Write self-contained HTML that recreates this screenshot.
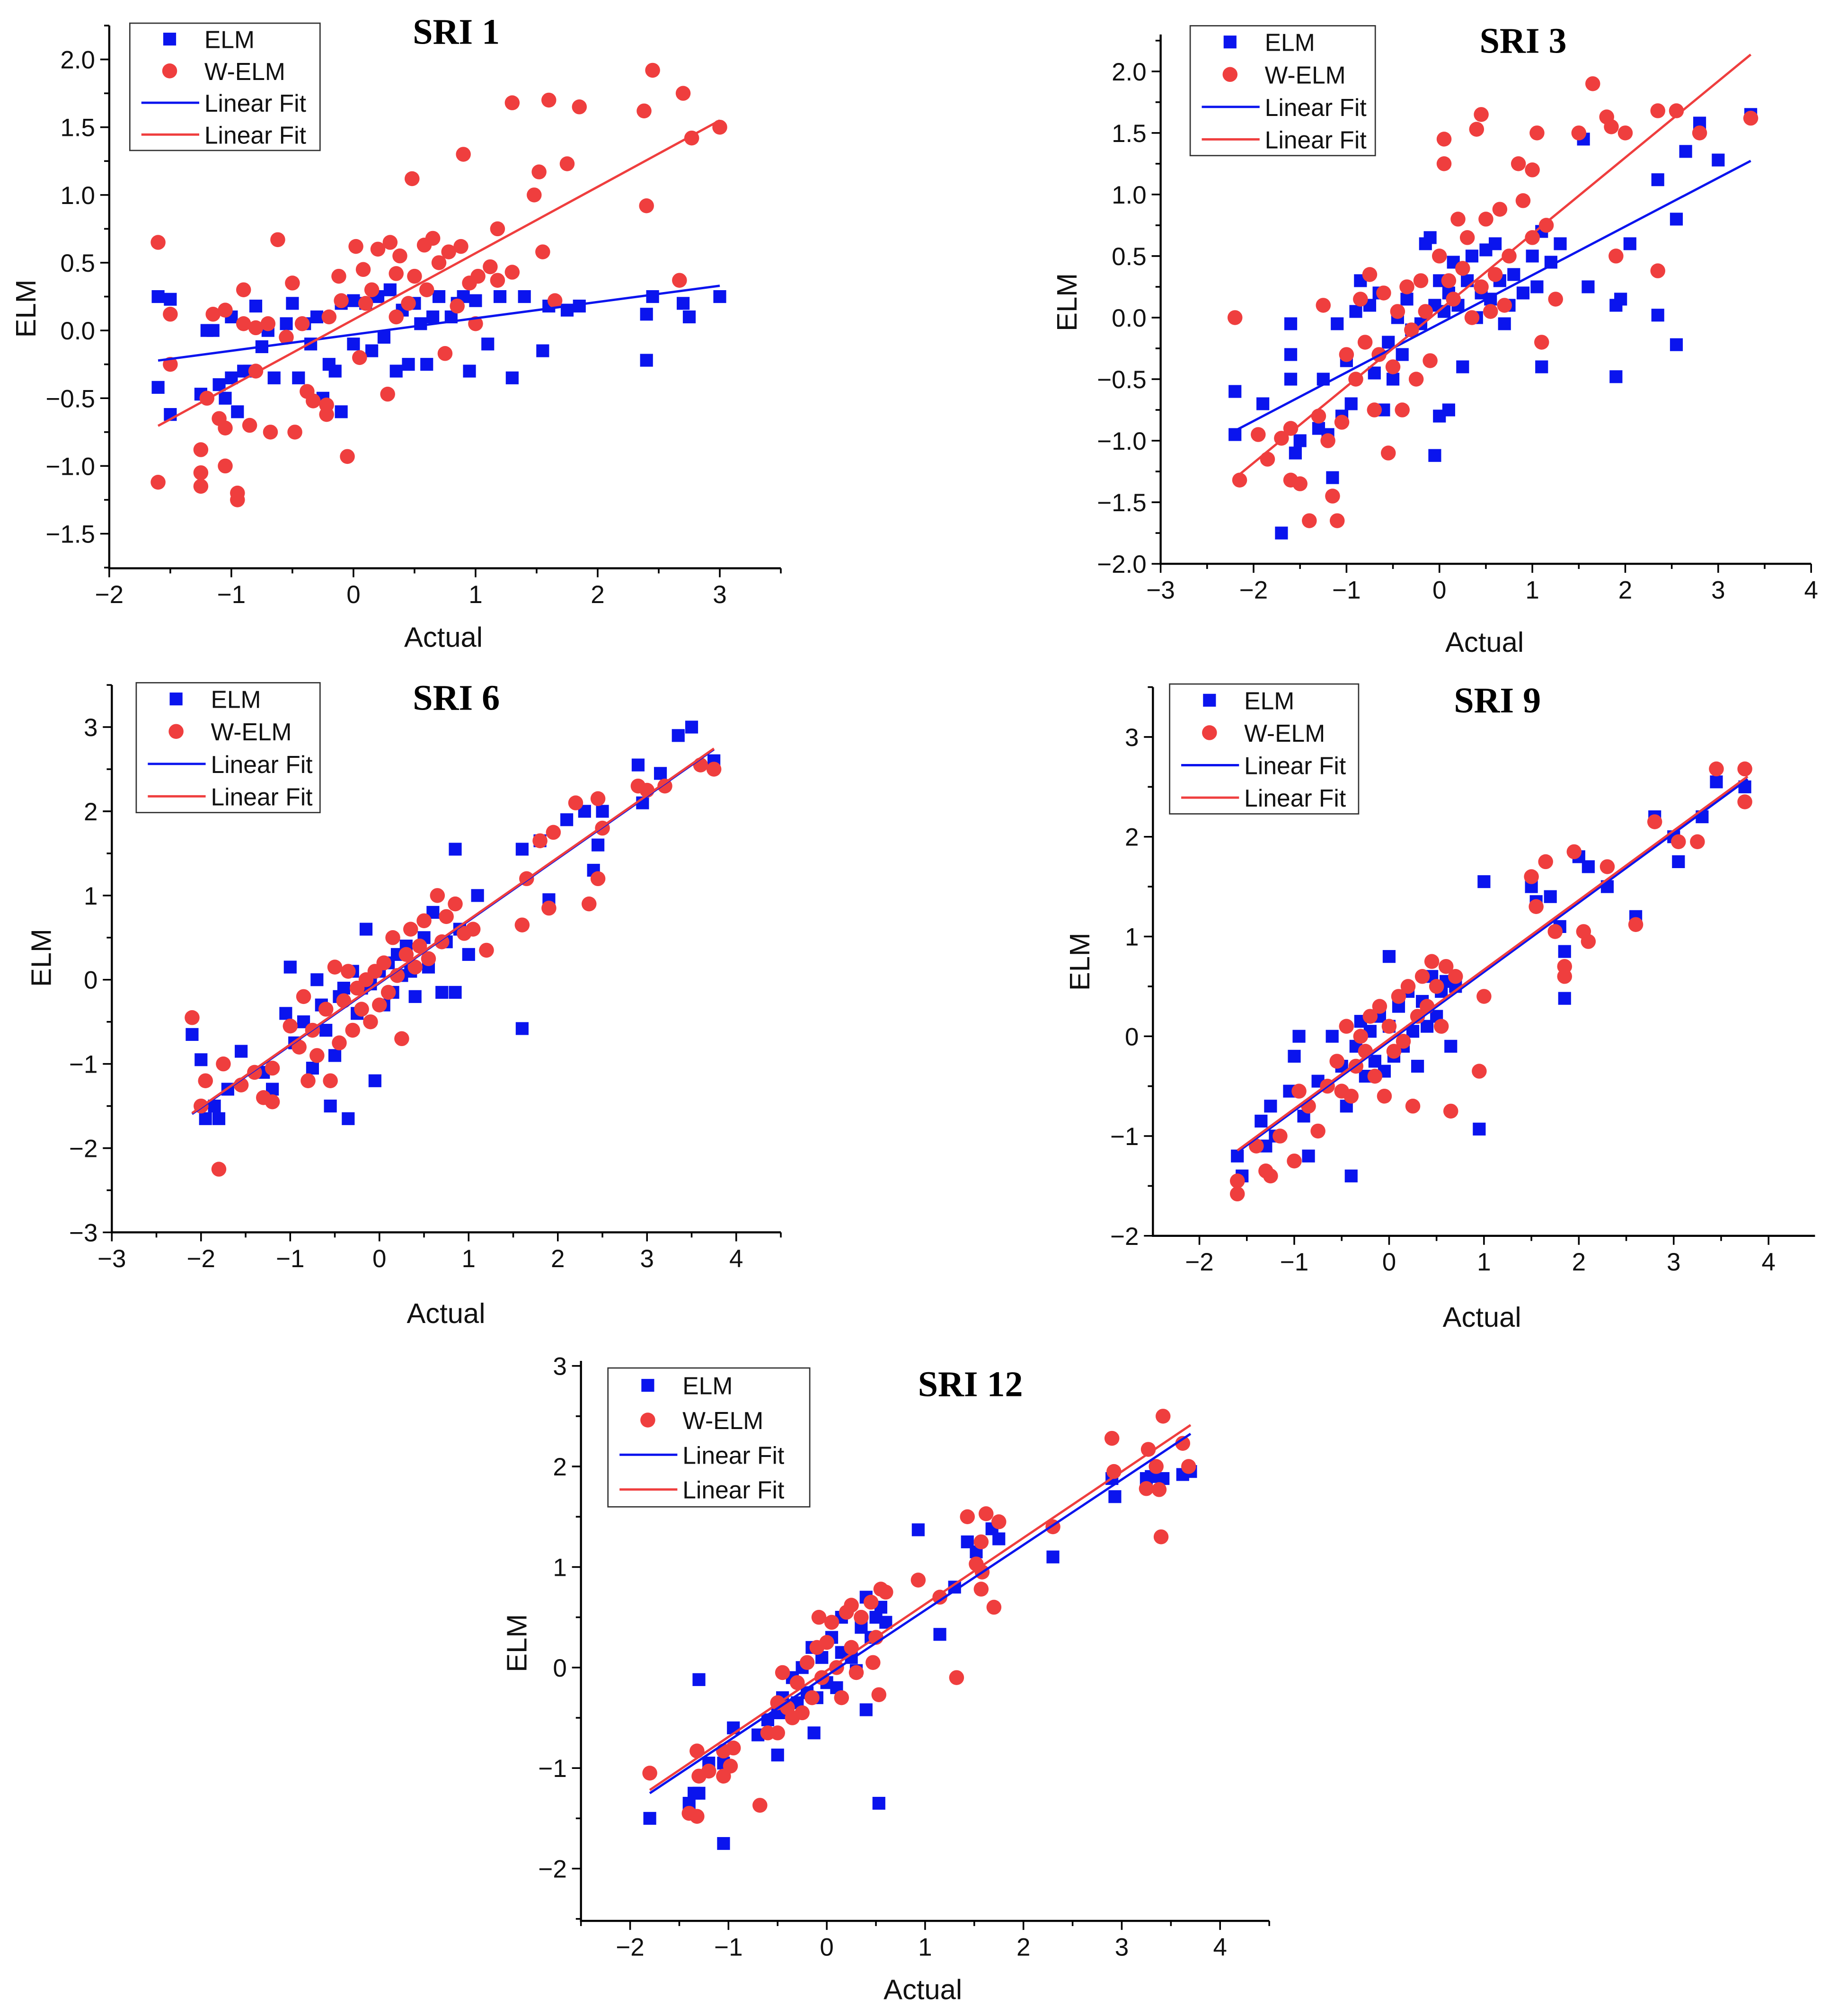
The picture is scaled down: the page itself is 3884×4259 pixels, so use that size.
<!DOCTYPE html>
<html><head><meta charset="utf-8"><style>
html,body{margin:0;padding:0;background:#fff;}
svg{display:block;}
</style></head><body>
<svg id="fig" xmlns="http://www.w3.org/2000/svg" width="3884" height="4259" viewBox="0 0 1430 1568" font-family="Liberation Sans, Arial, sans-serif">
<rect x="0" y="0" width="1430" height="1568" fill="#fff"/>
</svg>
<script>
// ---- data ----
const sri1Elm = [[-1.6,0.25],[-1.6,-0.42],[-1.5,0.23],[-1.5,-0.62],[-1.25,-0.47],[-1.2,0],[-1.15,0],[-1.1,-0.4],[-1.05,-0.5],[-1,-0.35],[-1,0.1],[-0.95,-0.6],[-0.9,-0.3],[-0.85,-0.3],[-0.8,0.18],[-0.75,-0.12],[-0.7,0],[-0.65,-0.35],[-0.55,0.05],[-0.5,0.2],[-0.45,-0.35],[-0.4,0.05],[-0.35,-0.1],[-0.3,0.1],[-0.25,-0.5],[-0.2,-0.25],[-0.15,-0.3],[-0.1,0.2],[-0.1,-0.6],[0,0.22],[0,-0.1],[0.1,0.2],[0.15,-0.15],[0.2,0.25],[0.25,-0.05],[0.3,0.3],[0.35,-0.3],[0.4,0.15],[0.45,-0.25],[0.5,0.2],[0.55,0.05],[0.6,-0.25],[0.65,0.1],[0.7,0.25],[0.8,0.1],[0.85,0.2],[0.9,0.25],[0.95,-0.3],[1,0.22],[1.1,-0.1],[1.2,0.25],[1.3,-0.35],[1.4,0.25],[1.55,-0.15],[1.6,0.18],[1.75,0.15],[1.85,0.18],[2.4,0.12],[2.4,-0.22],[2.45,0.25],[2.7,0.2],[2.75,0.1],[3,0.25]];
const sri1Welm = [[-1.6,0.65],[-1.6,-1.12],[-1.5,0.12],[-1.5,-0.25],[-1.25,-0.88],[-1.25,-1.05],[-1.25,-1.15],[-1.2,-0.5],[-1.15,0.12],[-1.1,-0.65],[-1.05,0.15],[-1.05,-0.72],[-1.05,-1.0],[-0.95,-1.2],[-0.95,-1.25],[-0.9,0.3],[-0.9,0.05],[-0.85,-0.7],[-0.8,0.02],[-0.8,-0.3],[-0.7,0.05],[-0.68,-0.75],[-0.62,0.67],[-0.55,-0.05],[-0.5,0.35],[-0.48,-0.75],[-0.42,0.05],[-0.38,-0.45],[-0.33,-0.52],[-0.22,-0.55],[-0.2,0.1],[-0.22,-0.62],[-0.12,0.4],[-0.1,0.22],[-0.05,-0.93],[0.02,0.62],[0.05,-0.2],[0.08,0.45],[0.1,0.2],[0.15,0.3],[0.2,0.6],[0.28,-0.47],[0.3,0.65],[0.35,0.1],[0.35,0.42],[0.38,0.55],[0.45,0.2],[0.5,0.4],[0.48,1.12],[0.58,0.63],[0.6,0.3],[0.65,0.68],[0.7,0.5],[0.78,0.58],[0.75,-0.17],[0.85,0.18],[0.9,1.3],[0.88,0.62],[0.95,0.35],[1,0.05],[1.02,0.4],[1.12,0.47],[1.18,0.75],[1.18,0.37],[1.3,1.68],[1.3,0.43],[1.48,1.0],[1.52,1.17],[1.55,0.58],[1.6,1.7],[1.65,0.22],[1.75,1.23],[1.85,1.65],[2.38,1.62],[2.4,0.92],[2.45,1.92],[2.7,1.75],[2.77,1.42],[2.67,0.37],[3,1.5]];
const sri3Elm = [[-2.2,-0.6],[-2.2,-0.95],[-1.9,-0.7],[-1.7,-1.75],[-1.6,-0.3],[-1.6,-0.05],[-1.6,-0.5],[-1.55,-1.1],[-1.5,-1.0],[-1.3,-0.9],[-1.25,-0.5],[-1.2,-0.95],[-1.15,-1.3],[-1.1,-0.05],[-1.05,-0.8],[-1,-0.35],[-0.95,-0.7],[-0.9,0.05],[-0.85,0.3],[-0.75,0.1],[-0.7,-0.45],[-0.65,0.2],[-0.6,-0.75],[-0.55,-0.2],[-0.5,-0.5],[-0.45,0],[-0.4,-0.3],[-0.35,0.15],[-0.3,-0.1],[-0.2,-0.05],[-0.15,0.6],[-0.1,0.65],[-0.05,-1.12],[-0.05,0.1],[0,-0.8],[0,0.3],[0.05,0.05],[0.1,-0.75],[0.1,0.2],[0.15,0.45],[0.2,0.1],[0.25,-0.4],[0.3,0.3],[0.35,0.5],[0.4,0],[0.45,0.2],[0.5,0.55],[0.55,0.15],[0.6,0.6],[0.65,0.3],[0.7,-0.05],[0.75,0.1],[0.8,0.35],[0.9,0.2],[1,0.5],[1.05,0.25],[1.1,0.7],[1.1,-0.4],[1.2,0.45],[1.3,0.6],[1.55,1.45],[1.6,0.25],[1.9,0.1],[1.9,-0.48],[1.95,0.15],[2.05,0.6],[2.35,1.12],[2.35,0.02],[2.55,-0.22],[2.55,0.8],[2.65,1.35],[2.8,1.58],[3.0,1.28],[3.35,1.65]];
const sri3Welm = [[-2.2,0],[-2.15,-1.32],[-1.95,-0.95],[-1.85,-1.15],[-1.7,-0.98],[-1.6,-1.32],[-1.6,-0.9],[-1.5,-1.35],[-1.4,-1.65],[-1.3,-0.8],[-1.25,0.1],[-1.2,-1.0],[-1.15,-1.45],[-1.1,-1.65],[-1.05,-0.85],[-1,-0.3],[-0.9,-0.5],[-0.85,0.15],[-0.8,-0.2],[-0.75,0.35],[-0.7,-0.75],[-0.65,-0.3],[-0.6,0.2],[-0.55,-1.1],[-0.5,-0.4],[-0.45,0.05],[-0.4,-0.75],[-0.35,0.25],[-0.3,-0.1],[-0.25,-0.5],[-0.2,0.3],[-0.15,0.05],[-0.1,-0.35],[0,0.5],[0.05,1.25],[0.05,1.45],[0.1,0.3],[0.15,0.15],[0.2,0.8],[0.25,0.4],[0.3,0.65],[0.35,0],[0.4,1.53],[0.45,1.65],[0.45,0.25],[0.5,0.8],[0.55,0.05],[0.6,0.35],[0.65,0.88],[0.7,0.1],[0.75,0.5],[0.85,1.25],[0.9,0.95],[1,1.2],[1,0.65],[1.05,1.5],[1.1,-0.2],[1.15,0.75],[1.25,0.15],[1.5,1.5],[1.65,1.9],[1.8,1.63],[1.85,1.55],[1.9,0.5],[2.0,1.5],[2.35,1.68],[2.35,0.38],[2.55,1.68],[2.8,1.5],[3.35,1.62]];
const sri6Elm = [[-2.1,-0.65],[-2,-0.95],[-1.95,-1.65],[-1.85,-1.5],[-1.8,-1.65],[-1.7,-1.3],[-1.55,-0.85],[-1.3,-1.1],[-1.2,-1.3],[-1.05,-0.4],[-1,0.15],[-0.95,-0.75],[-0.85,-0.5],[-0.75,-1.05],[-0.7,0],[-0.65,-0.3],[-0.6,-0.6],[-0.55,-1.5],[-0.5,-0.9],[-0.45,-0.2],[-0.4,-0.1],[-0.35,-1.65],[-0.3,0.1],[-0.25,-0.4],[-0.2,-0.1],[-0.15,0.6],[-0.1,-0.05],[-0.05,-1.2],[0,0.1],[0.05,-0.3],[0.1,0.2],[0.15,-0.15],[0.2,0.3],[0.25,0.05],[0.3,0.4],[0.35,0.1],[0.4,-0.2],[0.5,0.5],[0.55,0.15],[0.6,0.8],[0.7,-0.15],[0.75,0.45],[0.85,1.55],[0.85,-0.15],[0.9,0.6],[1.0,0.3],[1.1,1.0],[1.6,-0.58],[1.6,1.55],[1.8,1.65],[1.9,0.95],[2.1,1.9],[2.3,2.0],[2.4,1.3],[2.45,1.6],[2.5,2.0],[2.9,2.55],[2.95,2.1],[3.15,2.45],[3.35,2.9],[3.5,3.0],[3.75,2.6]];
const sri6Welm = [[-2.1,-0.45],[-2,-1.5],[-1.95,-1.2],[-1.8,-2.25],[-1.75,-1.0],[-1.55,-1.25],[-1.4,-1.1],[-1.3,-1.4],[-1.2,-1.45],[-1.2,-1.05],[-1,-0.55],[-0.9,-0.8],[-0.85,-0.2],[-0.8,-1.2],[-0.75,-0.6],[-0.7,-0.9],[-0.6,-0.35],[-0.55,-1.2],[-0.5,0.15],[-0.45,-0.75],[-0.4,-0.25],[-0.35,0.1],[-0.3,-0.6],[-0.25,-0.1],[-0.2,-0.35],[-0.15,0],[-0.1,-0.5],[-0.05,0.1],[0,-0.3],[0.05,0.2],[0.1,-0.15],[0.15,0.5],[0.2,0.05],[0.25,-0.7],[0.3,0.3],[0.35,0.6],[0.4,0.15],[0.45,0.4],[0.5,0.7],[0.55,0.25],[0.65,1.0],[0.7,0.45],[0.75,0.75],[0.85,0.9],[0.95,0.55],[1.05,0.6],[1.2,0.35],[1.6,0.65],[1.65,1.2],[1.8,1.65],[1.9,0.85],[1.95,1.75],[2.2,2.1],[2.35,0.9],[2.45,1.2],[2.45,2.15],[2.5,1.8],[2.9,2.3],[3.0,2.25],[3.2,2.3],[3.6,2.55],[3.75,2.5]];
const sri9Elm = [[-1.6,-1.2],[-1.55,-1.4],[-1.35,-0.85],[-1.3,-1.1],[-1.25,-0.7],[-1.2,-1.0],[-1.05,-0.55],[-1.0,-0.2],[-0.95,0],[-0.9,-0.8],[-0.85,-1.2],[-0.75,-0.45],[-0.6,0],[-0.5,-0.3],[-0.45,-0.7],[-0.4,-1.4],[-0.35,-0.1],[-0.3,0.15],[-0.25,-0.4],[-0.2,0.05],[-0.15,-0.25],[-0.1,0.2],[-0.05,-0.35],[0,0.8],[0,0.1],[0.05,-0.2],[0.1,0.3],[0.15,-0.1],[0.2,0.45],[0.25,0.05],[0.3,-0.3],[0.35,0.35],[0.4,0.1],[0.45,0.6],[0.5,0.2],[0.55,0.45],[0.6,0.55],[0.65,-0.1],[0.7,0.5],[1.0,1.55],[0.95,-0.93],[1.5,1.5],[1.55,1.35],[1.7,1.4],[1.8,1.1],[1.85,0.38],[1.85,0.85],[2.0,1.8],[2.1,1.7],[2.3,1.5],[2.6,1.2],[2.8,2.2],[3.0,2.0],[3.05,1.75],[3.3,2.2],[3.45,2.55],[3.75,2.5]];
const sri9Welm = [[-1.6,-1.45],[-1.6,-1.58],[-1.4,-1.1],[-1.3,-1.35],[-1.25,-1.4],[-1.15,-1.0],[-1.0,-1.25],[-0.95,-0.55],[-0.85,-0.7],[-0.75,-0.95],[-0.65,-0.5],[-0.55,-0.25],[-0.5,-0.55],[-0.45,0.1],[-0.4,-0.6],[-0.35,-0.3],[-0.3,0],[-0.25,-0.15],[-0.2,0.2],[-0.15,-0.4],[-0.1,0.3],[-0.05,-0.6],[0,0.1],[0.05,-0.15],[0.1,0.4],[0.15,-0.05],[0.2,0.5],[0.25,-0.7],[0.3,0.2],[0.35,0.6],[0.4,0.3],[0.45,0.75],[0.5,0.5],[0.55,0.1],[0.6,0.7],[0.65,-0.75],[0.7,0.6],[0.95,-0.35],[1.0,0.4],[1.5,1.6],[1.55,1.3],[1.65,1.75],[1.75,1.05],[1.85,0.6],[1.85,0.7],[1.95,1.85],[2.05,1.05],[2.1,0.95],[2.3,1.7],[2.6,1.12],[2.8,2.15],[3.05,1.95],[3.25,1.95],[3.45,2.68],[3.75,2.35],[3.75,2.68]];
const sri12Elm = [[-1.8,-1.5],[-1.4,-1.35],[-1.35,-1.25],[-1.3,-0.12],[-1.3,-1.25],[-1.05,-1.75],[-1.05,-0.95],[-1.2,-0.95],[-0.95,-0.6],[-0.7,-0.67],[-0.5,-0.87],[-0.6,-0.52],[-0.5,-0.45],[-0.45,-0.3],[-0.4,-0.45],[-0.35,-0.1],[-0.3,-0.35],[-0.25,0],[-0.2,-0.25],[-0.15,0.2],[-0.13,-0.65],[-0.1,-0.3],[-0.05,0.1],[0,-0.15],[0.05,0.3],[0.1,-0.2],[0.15,0.15],[0.15,0.5],[0.25,0.1],[0.3,-0.03],[0.35,0.4],[0.4,0.7],[0.45,0.3],[0.5,0.5],[0.55,0.6],[0.6,0.45],[0.4,-0.42],[0.53,-1.35],[0.93,1.37],[1.15,0.33],[1.3,0.8],[1.43,1.25],[1.52,1.15],[1.68,1.38],[1.75,1.28],[2.3,1.1],[2.9,1.88],[2.93,1.7],[3.25,1.88],[3.3,1.9],[3.42,1.88],[3.62,1.92],[3.7,1.95]];
const sri12Welm = [[-1.8,-1.05],[-1.4,-1.45],[-1.32,-1.48],[-1.32,-0.83],[-1.3,-1.08],[-1.2,-1.03],[-1.05,-1.08],[-1.05,-0.83],[-0.95,-0.8],[-0.98,-0.98],[-0.68,-1.37],[-0.6,-0.65],[-0.5,-0.65],[-0.5,-0.35],[-0.45,-0.05],[-0.4,-0.4],[-0.35,-0.5],[-0.3,-0.15],[-0.25,-0.45],[-0.2,0.05],[-0.15,-0.3],[-0.1,0.2],[-0.05,-0.1],[-0.08,0.5],[0,0.25],[0.05,0.45],[0.1,0],[0.15,-0.3],[0.2,0.55],[0.25,0.2],[0.25,0.62],[0.3,-0.05],[0.35,0.5],[0.45,0.65],[0.47,0.05],[0.5,0.3],[0.55,0.78],[0.53,-0.27],[0.6,0.75],[0.93,0.87],[1.15,0.7],[1.32,-0.1],[1.43,1.5],[1.52,1.03],[1.57,1.25],[1.57,0.78],[1.62,1.53],[1.58,0.95],[1.7,0.6],[1.75,1.45],[2.3,1.4],[2.9,2.28],[2.92,1.95],[3.25,1.78],[3.27,2.17],[3.35,2.0],[3.38,1.77],[3.4,1.3],[3.42,2.5],[3.62,2.23],[3.68,2.0]];
// linear fits: [slope, intercept, xStart, xEnd]
const sri1FitElm = [0.12,-0.03,-1.6,3.0];
const sri1FitWelm = [0.49,0.08,-1.6,3.0];
const sri3FitElm = [0.395,-0.05,-2.2,3.35];
const sri3FitWelm = [0.62,0.06,-2.2,3.35];
const sri6FitElm = [0.74,-0.04,-2.1,3.75];
const sri6FitWelm = [0.74,-0.03,-2.1,3.75];
const sri9FitElm = [0.695,-0.05,-1.6,3.78];
const sri9FitWelm = [0.697,-0.03,-1.6,3.78];
const sri12FitElm = [0.65,-0.08,-1.8,3.7];
const sri12FitWelm = [0.66,-0.03,-1.8,3.7];
const sri1XTicks = [-2,-1,0,1,2,3];
const sri1YTicks = [-1.5,-1.0,-0.5,0.0,0.5,1.0,1.5,2.0];
const sri3XTicks = [-3,-2,-1,0,1,2,3,4];
const sri3YTicks = [-2.0,-1.5,-1.0,-0.5,0.0,0.5,1.0,1.5,2.0];
const sri6XTicks = [-3,-2,-1,0,1,2,3,4];
const sri6YTicks = [-3,-2,-1,0,1,2,3];
const sri9XTicks = [-2,-1,0,1,2,3,4];
const sri9YTicks = [-2,-1,0,1,2,3];
const sri12XTicks = [-2,-1,0,1,2,3,4];
const sri12YTicks = [-2,-1,0,1,2,3];

// ---- layout (display units) ----
const panels = [
 {id:'sri-1',title:'SRI 1',elm:sri1Elm,welm:sri1Welm,fe:sri1FitElm,fw:sri1FitWelm,xt:sri1XTicks,yt:sri1YTicks,dec:1,
  xMin:-2,xMax:3.5,px0:85,xs:95,yMin:-1.755,yMax:2.25,py0:257,ys:105.4,leg:[101,18,148,99],tt:[355,34],yl:[20,240],xl:[345,503]},
 {id:'sri-3',title:'SRI 3',elm:sri3Elm,welm:sri3Welm,fe:sri3FitElm,fw:sri3FitWelm,xt:sri3XTicks,yt:sri3YTicks,dec:1,
  xMin:-3,xMax:4,px0:903,xs:72.3,yMin:-2,yMax:2.3,py0:247,ys:95.75,leg:[926,20,144,101],tt:[1185,41],yl:[830,235],xl:[1155,507]},
 {id:'sri-6',title:'SRI 6',elm:sri6Elm,welm:sri6Welm,fe:sri6FitElm,fw:sri6FitWelm,xt:sri6XTicks,yt:sri6YTicks,dec:0,
  xMin:-3,xMax:4.5,px0:87,xs:69.4,yMin:-3,yMax:3.5,py0:762,ys:65.5,leg:[106,531,143,101],tt:[355,552],yl:[32,745],xl:[347,1029]},
 {id:'sri-9',title:'SRI 9',elm:sri9Elm,welm:sri9Welm,fe:sri9FitElm,fw:sri9FitWelm,xt:sri9XTicks,yt:sri9YTicks,dec:0,
  xMin:-2.49,xMax:4.49,px0:897,xs:73.8,yMin:-2,yMax:3.5,py0:806,ys:77.6,leg:[910,532,147,101],tt:[1165,554],yl:[840,748],xl:[1153,1032]},
 {id:'sri-12',title:'SRI 12',elm:sri12Elm,welm:sri12Welm,fe:sri12FitElm,fw:sri12FitWelm,xt:sri12XTicks,yt:sri12YTicks,dec:0,
  xMin:-2.5,xMax:4.5,px0:452,xs:76.5,yMin:-2.52,yMax:3.05,py0:1297,ys:78.2,leg:[473,1064,157,108],tt:[755,1086],yl:[402,1278],xl:[718,1555]}
];
const NS='http://www.w3.org/2000/svg';
const svg=document.getElementById('fig');
const BLUE='#0a14ee', RED='#ef3e3e';
const SQ=10, CR=5.8;
function mk(tag,attrs,parent){const e=document.createElementNS(NS,tag);for(const k in attrs)e.setAttribute(k,attrs[k]);parent.appendChild(e);return e;}
function fmt(v,d){let s=v.toFixed(d);if(v<0)s='\u2212'+s.slice(1);return s;}

panels.forEach(p=>{
  const g=mk('g',{},svg);
  
  
  const X=v=>p.px0+(v-p.xMin)*p.xs;
  const Y=v=>p.py0-v*p.ys;
  const bottom=Y(p.yMin), top=Y(p.yMax), left=X(p.xMin), right=X(p.xMax);
  const ax=mk('path',{d:`M${left},${top}V${bottom}H${right}`,fill:'none',stroke:'#000','stroke-width':1.6},g);
  
  
  const xstep=p.xt[1]-p.xt[0];
  for(let v=p.xt[0]-xstep;v<=p.xMax+1e-6;v+=xstep/2){
    if(v<p.xMin-1e-6)continue;
    const major=p.xt.some(t=>Math.abs(t-v)<1e-6);
    mk('line',{x1:X(v),x2:X(v),y1:bottom,y2:bottom+(major?7:4),stroke:'#000','stroke-width':1.3},g);
  }
  p.xt.forEach(v=>{
    const t=mk('text',{x:X(v),y:bottom+27,'font-size':19.5,'text-anchor':'middle',fill:'#111'},g);
    t.textContent=fmt(v,0);
    
    
  });
  const ystep=p.yt[1]-p.yt[0];
  for(let v=p.yt[0]-ystep;v<=p.yMax+1e-6;v+=ystep/2){
    if(v<p.yMin-1e-6)continue;
    const major=p.yt.some(t=>Math.abs(t-v)<1e-6);
    mk('line',{x1:left,x2:left-(major?7:4),y1:Y(v),y2:Y(v),stroke:'#000','stroke-width':1.3},g);
  }
  p.yt.forEach(v=>{
    const t=mk('text',{x:left-11,y:Y(v)+7,'font-size':19.5,'text-anchor':'end',fill:'#111'},g);
    t.textContent=fmt(v,p.dec);
    
    
  });
  const xl=mk('text',{x:p.xl[0],y:p.xl[1],'font-size':22,'text-anchor':'middle',fill:'#111'},g);
  xl.textContent='Actual';
  
  
  const yl=mk('text',{x:p.yl[0],y:p.yl[1],'font-size':22,'text-anchor':'middle',fill:'#111',transform:`rotate(-90 ${p.yl[0]} ${p.yl[1]})`,'dominant-baseline':'central'},g);
  yl.textContent='ELM';
  
  
  p.elm.forEach(d=>{
    const r=mk('rect',{x:X(d[0])-SQ/2,y:Y(d[1])-SQ/2,width:SQ,height:SQ,fill:BLUE},g);
    
    
  });
  p.welm.forEach(d=>{
    const c=mk('circle',{cx:X(d[0]),cy:Y(d[1]),r:CR,fill:RED},g);
    
    
  });
  [[p.fe,BLUE,'elm'],[p.fw,RED,'welm']].forEach(([f,col,n])=>{
    const l=mk('line',{x1:X(f[2]),y1:Y(f[0]*f[2]+f[1]),x2:X(f[3]),y2:Y(f[0]*f[3]+f[1]),stroke:col,'stroke-width':1.8},g);
    
    
  });
  const [lx,ly,lw,lh]=p.leg;
  const lg=mk('g',{},g);
  
  
  mk('rect',{x:lx,y:ly,width:lw,height:lh,fill:'#fff',stroke:'#333','stroke-width':1},lg);
  const rh=lh/4;
  const labels=['ELM','W-ELM','Linear Fit','Linear Fit'];
  labels.forEach((s,i)=>{
    const cy=ly+rh*(i+0.5);
    if(i===0) mk('rect',{x:lx+31-SQ/2,y:cy-SQ/2,width:SQ,height:SQ,fill:BLUE},lg);
    else if(i===1) mk('circle',{cx:lx+31,cy:cy,r:CR,fill:RED},lg);
    else mk('line',{x1:lx+9,x2:lx+54,y1:cy,y2:cy,stroke:i===2?BLUE:RED,'stroke-width':1.8},lg);
    const t=mk('text',{x:lx+58,y:cy+7,'font-size':19,fill:'#111'},lg);
    t.textContent=s;
    
    
  });
  const tt=mk('text',{x:p.tt[0],y:p.tt[1],'font-size':28,'font-weight':'bold','text-anchor':'middle','font-family':'Liberation Serif, serif',fill:'#000'},g);
  tt.textContent=p.title;
  
  
});
</script>
</body></html>
